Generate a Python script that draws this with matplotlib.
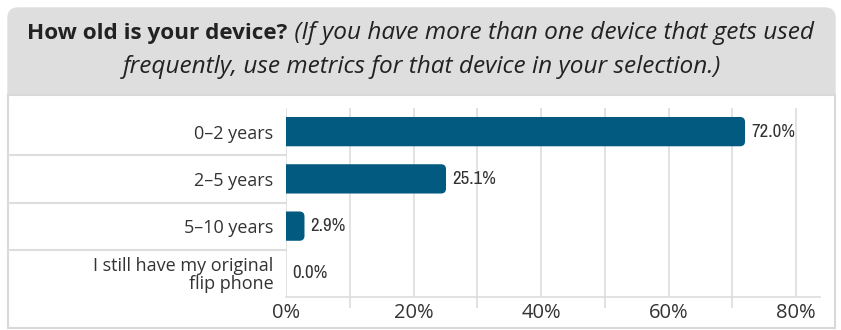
import matplotlib.pyplot as plt
from matplotlib.patches import FancyBboxPatch, Rectangle, PathPatch
from matplotlib.path import Path
from matplotlib import font_manager
import numpy as np

categories = ['0–2 years', '2–5 years', '5–10 years', 'I still have my original\nflip phone']
values = [72.0, 25.1, 2.9, 0.0]
tick_vals = [0, 20, 40, 60, 80]
tick_labels = ['0%', '20%', '40%', '60%', '80%']

bar_color = '#025a80'
grid_color = '#dddddd'
text_color = '#333333'

fonts = font_manager.fontManager.ttflist
names = {f.name for f in fonts}
main_font = 'Open Sans' if 'Open Sans' in names else 'DejaVu Sans'
# look for some condensed face for the value labels
narrow_font, narrow_stretch = 'DejaVu Sans', 'normal'
for f in fonts:
    if 'Narrow' in f.name or 'Condensed' in f.name:
        narrow_font, narrow_stretch = f.name, 'normal'
        break
else:
    for f in fonts:
        if f.stretch in ('condensed', 'semi-condensed') and f.style == 'normal':
            narrow_font, narrow_stretch = f.name, f.stretch
            break

W, H = 841, 330
fig = plt.figure(figsize=(W / 100, H / 100), dpi=100)
fig.patch.set_facecolor('white')

def fx(px):
    return px / W

def fy(py):
    return 1 - py / H

# panel background
panel = FancyBboxPatch((fx(8), fy(327)), fx(835) - fx(8), fy(8) - fy(327),
                       boxstyle='round,pad=0,rounding_size=0.012',
                       transform=fig.transFigure, facecolor='#dedede',
                       edgecolor='#dedede', lw=1, mutation_aspect=W / H, zorder=-2)
fig.add_artist(panel)
fig.add_artist(Rectangle((fx(8), fy(328)), fx(835) - fx(8), fy(95) - fy(328),
                         transform=fig.transFigure, facecolor='white',
                         edgecolor='#d9d9d9', lw=1.5, zorder=-1))

ax = fig.add_axes([fx(286), fy(297), fx(820) - fx(286), fy(108) - fy(297)])
ax.set_zorder(2)
xmax = 83.76
ax.set_xlim(0, xmax)
ax.set_ylim(3.5, -0.5)
ax.set_facecolor('none')

for s in ['top', 'right', 'left']:
    ax.spines[s].set_visible(False)
ax.spines['bottom'].set_color(grid_color)
ax.spines['bottom'].set_linewidth(1.2)

for x in range(0, 90, 10):
    ax.axvline(x, color=grid_color, lw=1.2, zorder=0)

ax.set_xticks(tick_vals)
ax.set_xticklabels(tick_labels, fontsize=14.5, color=text_color, family=main_font)
ax.set_xticks([10, 30, 50, 70], minor=True)
ax.tick_params(axis='x', which='major', length=0, pad=4)
ax.tick_params(axis='x', which='minor', length=8, color=grid_color, width=1.2)

ax.set_yticks(range(len(categories)))
ax.set_yticklabels(categories, fontsize=13, color=text_color, family=main_font,
                   linespacing=0.98)
ax.tick_params(axis='y', length=0, pad=9)

# row separators on the label side
for yb in [0.5, 1.5, 2.5]:
    ax.plot([-278 / 534 * xmax, 0], [yb, yb], color=grid_color, lw=1.5,
            clip_on=False)

# bars with rounded right end
bh = 0.62
px_per_x = 534 / xmax
px_per_y = 189 / 4
r_px = 5
rx = r_px / px_per_x
ry = r_px / px_per_y
for i, v in enumerate(values):
    if v > 0:
        y0, y1 = i - bh / 2, i + bh / 2
        r = min(rx, v / 2)
        verts = [(0, y0), (v - r, y0), (v, y0), (v, y0 + ry), (v, y1 - ry),
                 (v, y1), (v - r, y1), (0, y1), (0, y0)]
        codes = [Path.MOVETO, Path.LINETO, Path.CURVE3, Path.CURVE3, Path.LINETO,
                 Path.CURVE3, Path.CURVE3, Path.LINETO, Path.CLOSEPOLY]
        ax.add_patch(PathPatch(Path(verts, codes), facecolor=bar_color,
                               edgecolor='none', zorder=3))
    ax.annotate(f'{v:.1f}%', (v, i), xytext=(4.5, 0), textcoords='offset points',
                va='center', ha='left', fontsize=13.5, color=text_color,
                family=narrow_font, fontstretch=narrow_stretch, fontweight='light')

# title, bold part + italic part on line 1
renderer = fig.canvas.get_renderer()
t1 = fig.text(0, fy(33), 'How old is your device?', fontsize=16.2, fontweight='bold',
              color='#222222', va='center', ha='left', family=main_font)
t2 = fig.text(0, fy(33), ' (If you have more than one device that gets used',
              fontsize=17.6, fontstyle='italic', color='#222222', va='center',
              ha='left', family=main_font)
w1 = t1.get_window_extent(renderer).width
w2 = t2.get_window_extent(renderer).width
x0 = W / 2 - (w1 + w2) / 2
t1.set_x(fx(x0))
t2.set_x(fx(x0 + w1))
fig.text(fx(W / 2 + 1), fy(67), 'frequently, use metrics for that device in your selection.)',
         fontsize=17.6, fontstyle='italic', color='#222222', va='center', ha='center',
         family=main_font)

fig.savefig('out.png', dpi=100)
